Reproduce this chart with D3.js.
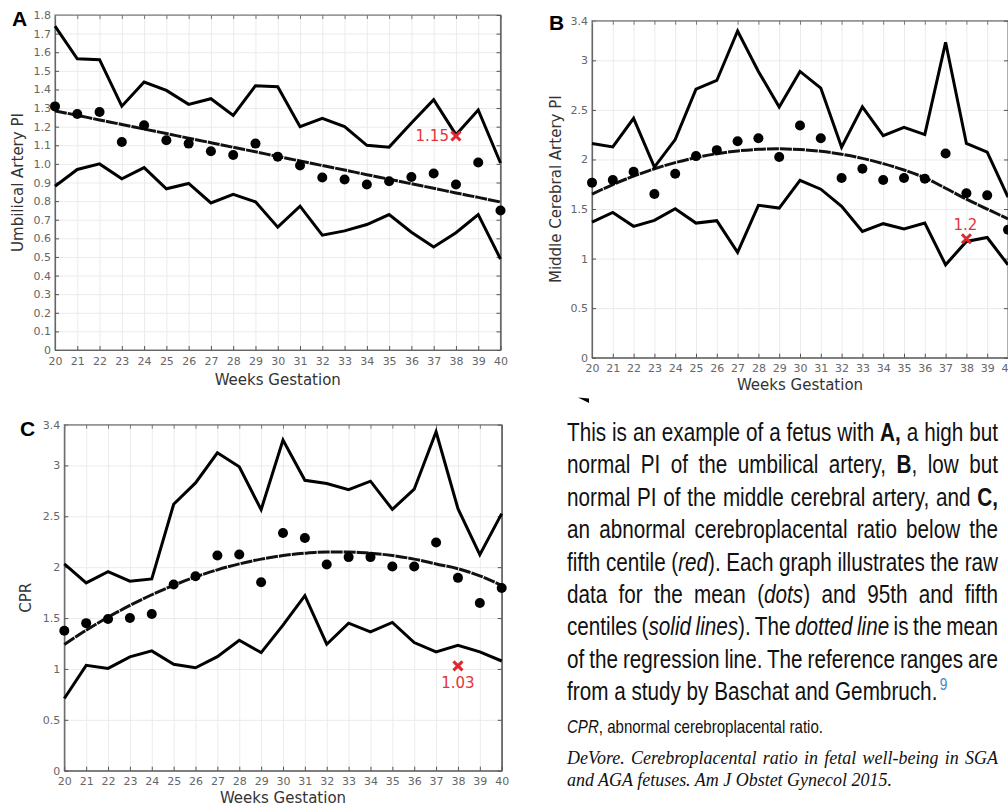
<!DOCTYPE html>
<html>
<head>
<meta charset="utf-8">
<script src="https://cdn.jsdelivr.net/npm/d3@7"></script>
<style>
  html, body { margin: 0; padding: 0; background: #fff; }
  svg { display: block; }
  text { white-space: pre; }
</style>
</head>
<body>
<svg id="chart" width="1008" height="807"></svg>
<script>
// ---------------- DATA ----------------
const weeks = [20,21,22,23,24,25,26,27,28,29,30,31,32,33,34,35,36,37,38,39,40];

// Panel A – Umbilical Artery PI
const A_ticks  = [0,0.1,0.2,0.3,0.4,0.5,0.6,0.7,0.8,0.9,1.0,1.1,1.2,1.3,1.4,1.5,1.6,1.7,1.8];
const A_upper  = [1.74,1.565,1.56,1.31,1.44,1.395,1.32,1.35,1.26,1.42,1.415,1.20,1.245,1.20,1.10,1.09,1.22,1.345,1.157,1.29,1.005];
const A_lower  = [0.88,0.97,1.00,0.92,0.98,0.866,0.895,0.79,0.836,0.796,0.66,0.773,0.617,0.64,0.674,0.728,0.633,0.554,0.63,0.728,0.489];
const A_mean   = [1.309,1.268,1.279,1.118,1.207,1.127,1.109,1.068,1.048,1.109,1.039,0.991,0.927,0.916,0.889,0.907,0.930,0.948,0.889,1.007,0.75];
const A_reg    = [1.285,1.261,1.236,1.212,1.187,1.163,1.138,1.114,1.089,1.065,1.040,1.016,0.991,0.967,0.942,0.918,0.893,0.869,0.844,0.820,0.795];
const A_patient = {week: 38, value: 1.15, label: "1.15"};

// Panel B – Middle Cerebral Artery PI
const B_ticks  = [0,0.5,1,1.5,2,2.5,3,3.4];
const B_upper  = [2.161,2.127,2.415,1.923,2.201,2.71,2.797,3.296,2.888,2.53,2.888,2.72,2.124,2.53,2.241,2.325,2.251,3.182,2.161,2.074,1.62];
const B_lower  = [1.368,1.466,1.325,1.385,1.503,1.358,1.382,1.062,1.537,1.51,1.79,1.70,1.527,1.274,1.352,1.298,1.358,0.937,1.173,1.213,0.937];
const B_mean   = [1.766,1.793,1.876,1.652,1.856,2.034,2.094,2.184,2.214,2.024,2.342,2.214,1.813,1.906,1.793,1.813,1.806,2.06,1.66,1.638,1.29];
const B_reg    = [1.65,1.747,1.832,1.906,1.968,2.019,2.058,2.086,2.102,2.107,2.10,2.082,2.052,2.011,1.958,1.894,1.815,1.71,1.60,1.50,1.40];
const B_patient = {week: 38, value: 1.2, label: "1.2"};

// Panel C – CPR
const C_ticks  = [0,0.5,1,1.5,2,2.5,3,3.4];
const C_upper  = [2.033,1.846,1.957,1.862,1.885,2.618,2.828,3.124,2.986,2.565,3.249,2.854,2.822,2.762,2.845,2.568,2.766,3.331,2.575,2.122,2.526];
const C_lower  = [0.709,1.035,1.005,1.118,1.177,1.045,1.012,1.121,1.282,1.16,1.431,1.72,1.243,1.45,1.365,1.457,1.259,1.167,1.233,1.167,1.078];
const C_mean   = [1.375,1.45,1.49,1.50,1.54,1.829,1.911,2.115,2.125,1.852,2.335,2.286,2.026,2.099,2.099,2.007,2.007,2.243,1.895,1.648,1.796];
const C_reg    = [1.24,1.38,1.508,1.624,1.729,1.822,1.904,1.974,2.032,2.079,2.114,2.137,2.149,2.149,2.137,2.114,2.079,2.032,1.985,1.915,1.82];
const C_patient = {week: 38, value: 1.03, label: "1.03"};

// ---------------- DRAW ----------------
const svg = d3.select('#chart');
const TICK_FONT = 'DejaVu Sans';

function panel(cfg) {
  const x = d3.scaleLinear().domain([20, 40]).range([cfg.l, cfg.r]);
  const y = d3.scaleLinear().domain([0, cfg.ymax]).range([cfg.b, cfg.t]);
  const g = svg.append('g');
  const W = cfg.r - cfg.l, H = cfg.b - cfg.t;

  // grid
  g.append('g').attr('transform', `translate(0,${cfg.b})`)
    .call(d3.axisBottom(x).tickValues(weeks).tickSize(-H).tickFormat(''))
    .call(s => { s.select('.domain').remove(); s.selectAll('line').attr('stroke', '#ebebeb'); });
  g.append('g').attr('transform', `translate(${cfg.l},0)`)
    .call(d3.axisLeft(y).tickValues(cfg.yt).tickSize(-W).tickFormat(''))
    .call(s => { s.select('.domain').remove(); s.selectAll('line').attr('stroke', '#ebebeb'); });

  // frame
  g.append('rect').attr('x', cfg.l).attr('y', cfg.t).attr('width', W).attr('height', H)
    .attr('fill', 'none').attr('stroke', '#8a8a8a').attr('stroke-width', 1.2);

  const styleAxis = s => {
    s.select('.domain').attr('stroke', '#666').attr('stroke-width', 1.2);
    s.selectAll('.tick line').attr('stroke', '#555');
    s.selectAll('text').attr('font-family', TICK_FONT).attr('font-size', 11).attr('fill', '#666');
  };
  g.append('g').attr('transform', `translate(0,${cfg.b})`)
    .call(d3.axisBottom(x).tickValues(weeks).tickSizeInner(-4).tickSizeOuter(0).tickPadding(7).tickFormat(d3.format('d')))
    .call(styleAxis);
  g.append('g').attr('transform', `translate(${cfg.l},0)`)
    .call(d3.axisLeft(y).tickValues(cfg.yt).tickSizeInner(-4).tickSizeOuter(0).tickPadding(4).tickFormat(cfg.fmt))
    .call(styleAxis);
  g.append('g').attr('transform', `translate(0,${cfg.t})`)
    .call(d3.axisTop(x).tickValues(weeks).tickSizeInner(-4).tickSizeOuter(0).tickFormat(''))
    .call(s => { s.select('.domain').attr('stroke', '#999'); s.selectAll('.tick line').attr('stroke', '#777'); });
  g.append('g').attr('transform', `translate(${cfg.r},0)`)
    .call(d3.axisRight(y).tickValues(cfg.yt).tickSizeInner(-4).tickSizeOuter(0).tickFormat(''))
    .call(s => { s.select('.domain').attr('stroke', '#555').attr('stroke-width', 1.2); s.selectAll('.tick line').attr('stroke', '#555'); });

  const line = d3.line().x((d, i) => x(weeks[i])).y(d => y(d));

  // regression (fine dotted texture)
  g.append('path').attr('d', line.curve(d3.curveMonotoneX)(cfg.reg)).attr('fill', 'none')
    .attr('stroke', '#111').attr('stroke-width', 3).attr('stroke-dasharray', '12,1');
  line.curve(d3.curveLinear);
  [cfg.upper, cfg.lower].forEach(arr => {
    g.append('path').attr('d', line(arr)).attr('fill', 'none')
      .attr('stroke', '#000').attr('stroke-width', 3).attr('stroke-linejoin', 'miter');
  });
  g.selectAll('circle.m').data(cfg.mean).enter().append('circle')
    .attr('cx', (d, i) => x(weeks[i])).attr('cy', d => y(d)).attr('r', 5).attr('fill', '#000');

  const px = x(cfg.pt.week), py = y(cfg.pt.value), s = 4.5;
  g.append('path').attr('d', `M${px - s},${py - s}L${px + s},${py + s}M${px - s},${py + s}L${px + s},${py - s}`)
    .attr('stroke', '#e0282c').attr('stroke-width', 3).attr('fill', 'none');
  g.append('text').attr('x', px + cfg.lab.dx).attr('y', py + cfg.lab.dy)
    .attr('text-anchor', cfg.lab.anchor).attr('font-family', TICK_FONT).attr('font-size', 15)
    .attr('fill', '#e2363a').text(cfg.pt.label);

  g.append('text').attr('x', (cfg.l + cfg.r) / 2).attr('y', cfg.b + cfg.xtDy).attr('text-anchor', 'middle')
    .attr('font-family', TICK_FONT).attr('font-size', 15).attr('fill', '#333').text('Weeks Gestation');
  g.append('text').attr('transform', `translate(${cfg.ytX},${(cfg.t + cfg.b) / 2}) rotate(-90)`)
    .attr('text-anchor', 'middle').attr('font-family', TICK_FONT).attr('font-size', 15).attr('fill', '#333')
    .text(cfg.ytitle);
  g.append('text').attr('x', cfg.letter[0]).attr('y', cfg.letter[1]).attr('font-family', 'Liberation Sans')
    .attr('font-weight', 'bold').attr('font-size', 21).attr('fill', '#000').text(cfg.letter[2]);
}

const fmtA = d => d === 0 ? '0' : d3.format('.1f')(d);
const fmtBC = d => d3.format('')(d);

panel({l: 55, r: 500.5, t: 15, b: 350, ymax: 1.8, yt: A_ticks, fmt: fmtA,
  upper: A_upper, lower: A_lower, mean: A_mean, reg: A_reg, pt: A_patient,
  lab: {dx: -7, dy: 5, anchor: 'end'}, xtDy: 35, ytX: 23, ytitle: 'Umbilical Artery PI', letter: [12, 26, 'A']});
panel({l: 592, r: 1008, t: 20.7, b: 357.7, ymax: 3.4, yt: B_ticks, fmt: fmtBC,
  upper: B_upper, lower: B_lower, mean: B_mean, reg: B_reg, pt: B_patient,
  lab: {dx: -1, dy: -9, anchor: 'middle'}, xtDy: 32, ytX: 561, ytitle: 'Middle Cerebral Artery PI', letter: [549, 30, 'B']});
panel({l: 64.3, r: 501.7, t: 424.7, b: 770.7, ymax: 3.4, yt: C_ticks, fmt: fmtBC,
  upper: C_upper, lower: C_lower, mean: C_mean, reg: C_reg, pt: C_patient,
  lab: {dx: 0, dy: 22, anchor: 'middle'}, xtDy: 32, ytX: 31, ytitle: 'CPR', letter: [20, 436, 'C']});

svg.append('path').attr('d', 'M578,397.5L589,398.5L589,403Z').attr('fill', '#000');

// ---------------- CAPTION TEXT ----------------
const TX = 567, TW = 431;
const NARROW_SCALE = 0.82;        // Arial-metric sans compressed horizontally ≈ narrow face
const SANS = 'Liberation Sans, Arial, sans-serif';
const para = [
  [['This is an example of a fetus with ', 'n'], ['A,', 'b'], [' a high but', 'n']],
  [['normal PI of the umbilical artery, ', 'n'], ['B', 'b'], [', low but', 'n']],
  [['normal PI of the middle cerebral artery, and ', 'n'], ['C,', 'b']],
  [['an abnormal cerebroplacental ratio below the', 'n']],
  [['fifth centile (', 'n'], ['red', 'i'], ['). Each graph illustrates the raw', 'n']],
  [['data for the mean (', 'n'], ['dots', 'i'], [') and 95th and fifth', 'n']],
  [['centiles (', 'n'], ['solid lines', 'i'], ['). The ', 'n'], ['dotted line', 'i'], [' is the mean', 'n']],
  [['of the regression line. The reference ranges are', 'n']],
  [['from a study by Baschat and Gembruch.', 'n']]
];

const narrowG = svg.append('g').attr('transform', `translate(${TX},0) scale(${NARROW_SCALE},1)`);

function makeLine(parent, parts, x, yb, size, family, fill) {
  const t = parent.append('text').attr('x', x).attr('y', yb).attr('font-family', family)
    .attr('font-size', size).attr('fill', fill);
  parts.forEach(p => {
    const ts = t.append('tspan').text(p[0]);
    if (p[1] === 'b') ts.attr('font-weight', 'bold');
    if (p[1] === 'i') ts.attr('font-style', 'italic');
  });
  return t;
}
function justify(t, width) {
  const w = t.node().getComputedTextLength();
  const n = (t.text().trim().match(/ +/g) || []).length;
  if (n > 0) t.style('word-spacing', ((width - w) / n) + 'px');
}

let probe = makeLine(narrowG, para[8], 0, -100, 20, SANS, '#000');
const pSize = 20 * 370 / (NARROW_SCALE * probe.node().getComputedTextLength());
probe.remove();

para.forEach((parts, i) => {
  const yb = 441 + i * 32.4;
  const t = makeLine(narrowG, parts, 0, yb, pSize, SANS, '#111');
  if (i < para.length - 1) justify(t, TW / NARROW_SCALE);
  else {
    const w = t.node().getComputedTextLength();
    narrowG.append('text').attr('x', w + 3).attr('y', yb - 10).attr('font-family', SANS)
      .attr('font-size', pSize * 0.66).attr('fill', '#3f86c4').text('9');
  }
});

const note = [['CPR', 'i'], [', abnormal cerebroplacental ratio.', 'n']];
probe = makeLine(narrowG, note, 0, -100, 16, SANS, '#000');
const nSize = 16 * 256 / (NARROW_SCALE * probe.node().getComputedTextLength());
probe.remove();
makeLine(narrowG, note, 0, 733, nSize, SANS, '#111');

// citation (serif italic)
const SERIF = 'Liberation Serif';
const cite2 = [['and AGA fetuses. Am J Obstet Gynecol 2015.', 'i']];
probe = makeLine(svg, cite2, 0, -100, 16, SERIF, '#000');
const cSize = 16 * 325 / probe.node().getComputedTextLength();
probe.remove();
const c1 = makeLine(svg, [['DeVore. Cerebroplacental ratio in fetal well-being in SGA', 'i']], TX, 764, cSize, SERIF, '#111');
justify(c1, TW);
makeLine(svg, cite2, TX, 786, cSize, SERIF, '#111');
</script>
</body>
</html>
